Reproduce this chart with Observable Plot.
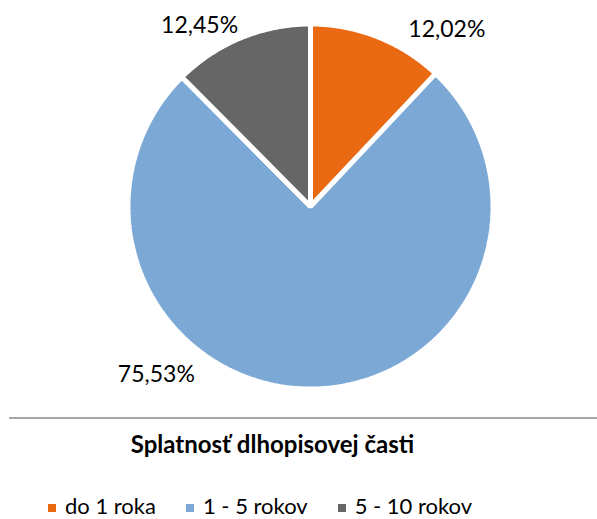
<!DOCTYPE html>
<html>
<head>
<meta charset="utf-8">
<script src="https://cdn.jsdelivr.net/npm/d3@7"></script>
<script src="https://cdn.jsdelivr.net/npm/@observablehq/plot@0.6"></script>
<style>
  html, body { margin: 0; padding: 0; background: #fff; }
  body { width: 597px; height: 519px; position: relative; overflow: hidden; font-family: Lato, "Open Sans", sans-serif; color: #000; }
  #chart { position: absolute; left: 0; top: 0; }
  .rule { position: absolute; left: 9px; right: 0; top: 417px; border-top: 2px solid #A6A6A6; }
  .title { position: absolute; left: 0; width: 545px; top: 432px; text-align: center; font-weight: 700; font-size: 24px; line-height: 24px; }
  .legend { position: absolute; left: 48px; top: 496px; display: flex; gap: 30px; font-size: 22px; line-height: 20px; }
  .legend .item { display: flex; align-items: center; }
  .legend .sw { width: 8px; height: 8px; margin-right: 9px; margin-top: 3px; }
</style>
</head>
<body>
<div id="chart"></div>
<div class="rule"></div>
<div class="title" id="title"></div>
<div class="legend" id="legend"></div>
<script>
const categories = ["do 1 roka", "1 - 5 rokov", "5 - 10 rokov"];
const shares = [12.02, 75.53, 12.45];
const labelTexts = ["12,02%", "75,53%", "12,45%"];
const colors = ["#E96A12", "#7BA8D5", "#666666"];
const titleText = "Splatnosť dlhopisovej časti";

// Build slice polygons (angles measured clockwise from 12 o'clock)
const total = d3.sum(shares);
let acc = 0;
const slices = categories.map((c, i) => {
  const a0 = acc / total * 2 * Math.PI;
  acc += shares[i];
  const a1 = acc / total * 2 * Math.PI;
  return {key: c, a0, a1, mid: (a0 + a1) / 2, label: labelTexts[i]};
});
const R = 1.014;
const points = [];
for (const s of slices) {
  points.push({key: s.key, x: 0, y: 0});
  const n = Math.max(4, Math.ceil((s.a1 - s.a0) / 0.01));
  for (let k = 0; k <= n; k++) {
    const a = s.a0 + (s.a1 - s.a0) * k / n;
    points.push({key: s.key, x: R * Math.sin(a), y: R * Math.cos(a)});
  }
}
const LR = 1.15;
const lab = slices.map(s => ({...s, x: LR * Math.sin(s.mid), y: LR * Math.cos(s.mid)}));
const offsets = {"do 1 roka": [60, 16], "1 - 5 rokov": [-157, -39], "5 - 10 rokov": [-32, 10]};

const W = 597, H = 412, cx = 310, cy = 206, rpx = 180;
const plot = Plot.plot({
  width: W, height: H, margin: 0,
  style: {fontFamily: "Lato, 'Open Sans', sans-serif", background: "transparent"},
  x: {domain: [-cx / rpx, (W - cx) / rpx], axis: null},
  y: {domain: [-(H - cy) / rpx, cy / rpx], axis: null},
  color: {domain: categories, range: colors},
  marks: [
    Plot.line(points, {x: "x", y: "y", z: "key", fill: "key", stroke: "white", strokeWidth: 5, strokeLinejoin: "miter", curve: "linear-closed"}),
    ...lab.map(d => Plot.text([d], {x: "x", y: "y", text: "label", fontSize: 23, fill: "#000", dx: offsets[d.key][0], dy: offsets[d.key][1]}))
  ]
});
document.getElementById("chart").appendChild(plot);
document.getElementById("title").textContent = titleText;

const leg = document.getElementById("legend");
categories.forEach((c, i) => {
  const item = document.createElement("div");
  item.className = "item";
  const sw = document.createElement("span");
  sw.className = "sw";
  sw.style.background = colors[i];
  const t = document.createElement("span");
  t.textContent = c;
  item.appendChild(sw);
  item.appendChild(t);
  leg.appendChild(item);
});
</script>
</body>
</html>
